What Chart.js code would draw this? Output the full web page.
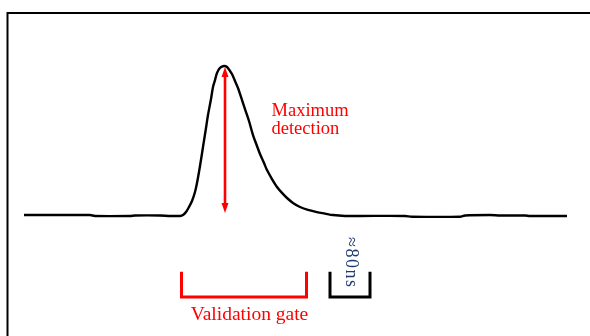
<!DOCTYPE html>
<html>
<head>
<meta charset="utf-8">
<script src="https://cdn.jsdelivr.net/npm/chart.js@4/dist/chart.umd.min.js"></script>
<style>
  html, body { margin: 0; padding: 0; background: #fff; }
  #wrap { width: 590px; height: 336px; position: relative; }
</style>
</head>
<body>
<div id="wrap"><canvas id="c" width="590" height="336"></canvas></div>
<script>
// Pulse waveform: time (ns) and normalised amplitude
const timeNs = [0, 72, 132, 142, 212, 222, 272, 292, 312, 318, 324, 330, 336, 342, 346, 352, 358, 364, 368, 374, 378, 382, 386, 392, 400, 406, 412, 416, 422, 428, 434, 442, 450, 458, 466, 472, 480, 486, 496, 506, 516, 526, 538, 552, 568, 586, 602, 618, 642, 672, 762, 776, 872, 882, 932, 952, 1002, 1012, 1086];
const amplitude = [0.003, 0.003, 0.003, -0.003, -0.003, 0, 0, -0.003, -0.003, 0.003, 0.023, 0.057, 0.097, 0.157, 0.217, 0.331, 0.458, 0.585, 0.672, 0.779, 0.860, 0.906, 0.953, 0.987, 1.000, 0.993, 0.967, 0.946, 0.900, 0.853, 0.793, 0.712, 0.632, 0.538, 0.465, 0.411, 0.351, 0.304, 0.244, 0.191, 0.151, 0.117, 0.084, 0.057, 0.037, 0.023, 0.013, 0.003, -0.003, -0.003, -0.003, -0.008, -0.008, 0, 0.003, 0, 0, -0.003, -0.003];

// Annotation values (data units)
const peakArrow = { t: 402, top: 0.993, bottom: 0.017 };
const validationGate = { start: 315, end: 565, top: -0.376, bottom: -0.545 };
const windowGate = { start: 612, end: 692, top: -0.376, bottom: -0.545 };
const labels = {
  maxLine1: "Maximum", maxLine2: "detection",
  gate: "Validation gate", window: "≈80ns"
};
const labelPos = {
  max: { t: 495, a1: 0.666, a2: 0.545 },
  gate: { t: 451, a: -0.699 },
  window: { t: 654, a: -0.144 }
};

const points = timeNs.map((t, i) => ({ x: t, y: amplitude[i] }));

const overlay = {
  id: 'overlay',
  beforeDraw(chart) {
    const ctx = chart.ctx;
    ctx.save();
    ctx.fillStyle = '#fff';
    ctx.fillRect(0, 0, chart.width, chart.height);
    // frame
    ctx.strokeStyle = '#000';
    ctx.lineWidth = 2;
    ctx.beginPath();
    ctx.moveTo(7.5, 337);
    ctx.lineTo(7.5, 13);
    ctx.lineTo(591, 13);
    ctx.stroke();
    ctx.restore();
  },
  afterDatasetsDraw(chart) {
    const ctx = chart.ctx;
    const xs = chart.scales.x, ys = chart.scales.y;
    const X = v => xs.getPixelForValue(v);
    const Y = v => ys.getPixelForValue(v);
    ctx.save();
    // double arrow
    const ax = X(peakArrow.t), ay1 = Y(peakArrow.top), ay2 = Y(peakArrow.bottom);
    ctx.strokeStyle = '#ff0000';
    ctx.fillStyle = '#ff0000';
    ctx.lineWidth = 2.6;
    ctx.beginPath();
    ctx.moveTo(ax, ay1 + 8);
    ctx.lineTo(ax, ay2 - 8);
    ctx.stroke();
    ctx.beginPath();
    ctx.moveTo(ax, ay1); ctx.lineTo(ax - 3.5, ay1 + 10); ctx.lineTo(ax + 3.5, ay1 + 10); ctx.closePath(); ctx.fill();
    ctx.beginPath();
    ctx.moveTo(ax, ay2); ctx.lineTo(ax - 3.5, ay2 - 10); ctx.lineTo(ax + 3.5, ay2 - 10); ctx.closePath(); ctx.fill();

    // brackets
    function bracket(g, color) {
      ctx.strokeStyle = color;
      ctx.lineWidth = 3;
      ctx.lineJoin = 'miter';
      ctx.beginPath();
      ctx.moveTo(X(g.start), Y(g.top));
      ctx.lineTo(X(g.start), Y(g.bottom));
      ctx.lineTo(X(g.end), Y(g.bottom));
      ctx.lineTo(X(g.end), Y(g.top));
      ctx.stroke();
    }
    bracket(validationGate, '#ff0000');
    bracket(windowGate, '#000000');

    // texts
    ctx.fillStyle = '#ff0000';
    ctx.font = '18.5px "Liberation Serif", serif';
    ctx.textAlign = 'left';
    ctx.textBaseline = 'alphabetic';
    ctx.fillText(labels.maxLine1, X(labelPos.max.t), Y(labelPos.max.a1));
    ctx.fillText(labels.maxLine2, X(labelPos.max.t), Y(labelPos.max.a2));
    ctx.textAlign = 'center';
    ctx.font = '19.5px "Liberation Serif", serif';
    ctx.fillText(labels.gate, X(labelPos.gate.t), Y(labelPos.gate.a));

    // rotated label
    ctx.save();
    ctx.translate(X(labelPos.window.t), Y(labelPos.window.a));
    ctx.rotate(Math.PI / 2);
    ctx.fillStyle = '#1f3a6e';
    ctx.font = '18px "Liberation Serif", serif';
    if ('letterSpacing' in ctx) ctx.letterSpacing = '1.5px';
    ctx.textAlign = 'left';
    ctx.textBaseline = 'middle';
    ctx.fillText(labels.window, 0, 0);
    ctx.restore();

    ctx.restore();
  }
};

new Chart(document.getElementById('c'), {
  type: 'line',
  data: {
    datasets: [{
      data: points,
      borderColor: '#000',
      borderWidth: 2.4,
      pointRadius: 0,
      tension: 0.3,
      fill: false
    }]
  },
  options: {
    responsive: false,
    animation: false,
    layout: { padding: 0 },
    plugins: { legend: { display: false }, tooltip: { enabled: false } },
    scales: {
      x: { type: 'linear', min: -48, max: 1132, display: false },
      y: { type: 'linear', min: -0.806, max: 1.4415, display: false }
    }
  },
  plugins: [overlay]
});
</script>
</body>
</html>
